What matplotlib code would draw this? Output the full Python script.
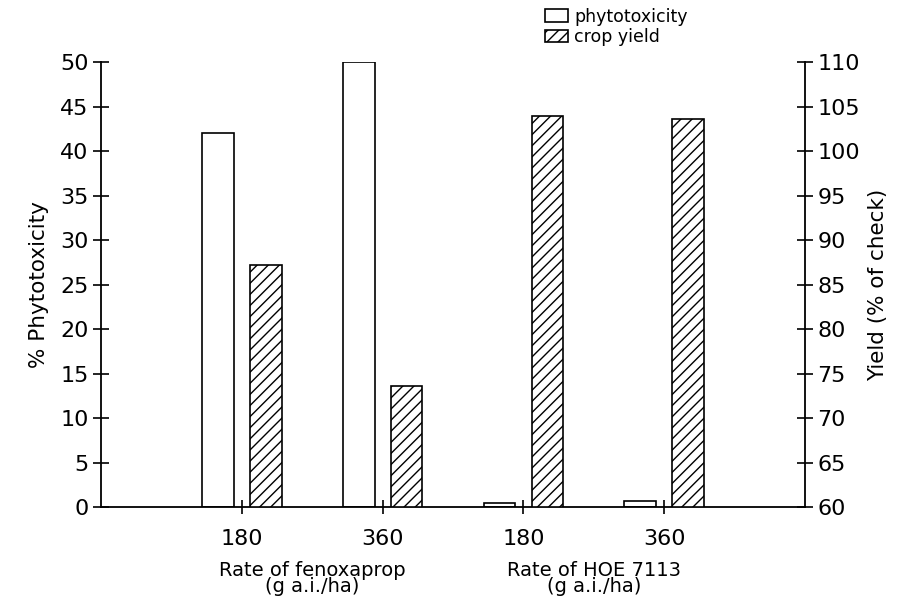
import matplotlib.pyplot as plt
import numpy as np

# data
rates = ["180", "360", "180", "360"]
groups = ["Rate of fenoxaprop\n(g a.i./ha)", "Rate of HOE 7113\n(g a.i./ha)"]
phytotoxicity = [42.0, 50.0, 0.45, 0.65]
crop_yield = [87.2, 73.6, 104.0, 103.6]

plt.rcParams['font.family'] = ['DejaVu Sans']

fig = plt.figure(figsize=(8.98, 6.03), dpi=100)
ax = fig.add_axes([0.1125, 0.159, 0.784, 0.738])
ax2 = ax.twinx()

x = np.arange(1, len(rates) + 1)
w = 0.225
off = 0.17

b1 = ax.bar(x - off, phytotoxicity, w, facecolor='white', edgecolor='black', linewidth=1.2,
            label='phytotoxicity')
b2 = ax2.bar(x + off, [v - 60 for v in crop_yield], w, bottom=60, facecolor='white',
             edgecolor='black', linewidth=1.2, hatch='///', label='crop yield')

ax.set_xlim(0, 5)
ax.set_ylim(0, 50)
ax2.set_ylim(60, 110)
ax.set_yticks(range(0, 51, 5))
ax2.set_yticks(range(60, 111, 5))
ax.set_xticks(x)
ax.set_xticklabels(rates)

for a in (ax, ax2):
    a.spines['top'].set_visible(False)
    for s in a.spines.values():
        s.set_linewidth(1.3)
ax.spines['right'].set_visible(False)
ax2.spines['left'].set_visible(False)
ax2.spines['bottom'].set_visible(False)

ax.tick_params(axis='y', direction='inout', length=12, width=1.2, labelsize=16, pad=3)
ax2.tick_params(axis='y', direction='inout', length=12, width=1.2, labelsize=16, pad=3)
ax.tick_params(axis='x', direction='inout', length=10, width=1.2, labelsize=16, pad=11)

ax.set_ylabel('% Phytotoxicity', fontsize=15.5, labelpad=8)
ax2.set_ylabel('Yield (% of check)', fontsize=15.5, labelpad=6)

for i, g in enumerate(groups):
    ax.text(1.5 + 2 * i, -0.12, g, transform=ax.get_xaxis_transform(), ha='center',
            va='top', fontsize=14, linespacing=0.85)

fig.legend(handles=[b1, b2], loc='upper left', bbox_to_anchor=(0.59, 1.012),
           frameon=False, fontsize=12.5, handlelength=1.35, handleheight=0.75,
           handletextpad=0.35, labelspacing=0.15, borderpad=0.35)

fig.savefig('out.png', dpi=100)
